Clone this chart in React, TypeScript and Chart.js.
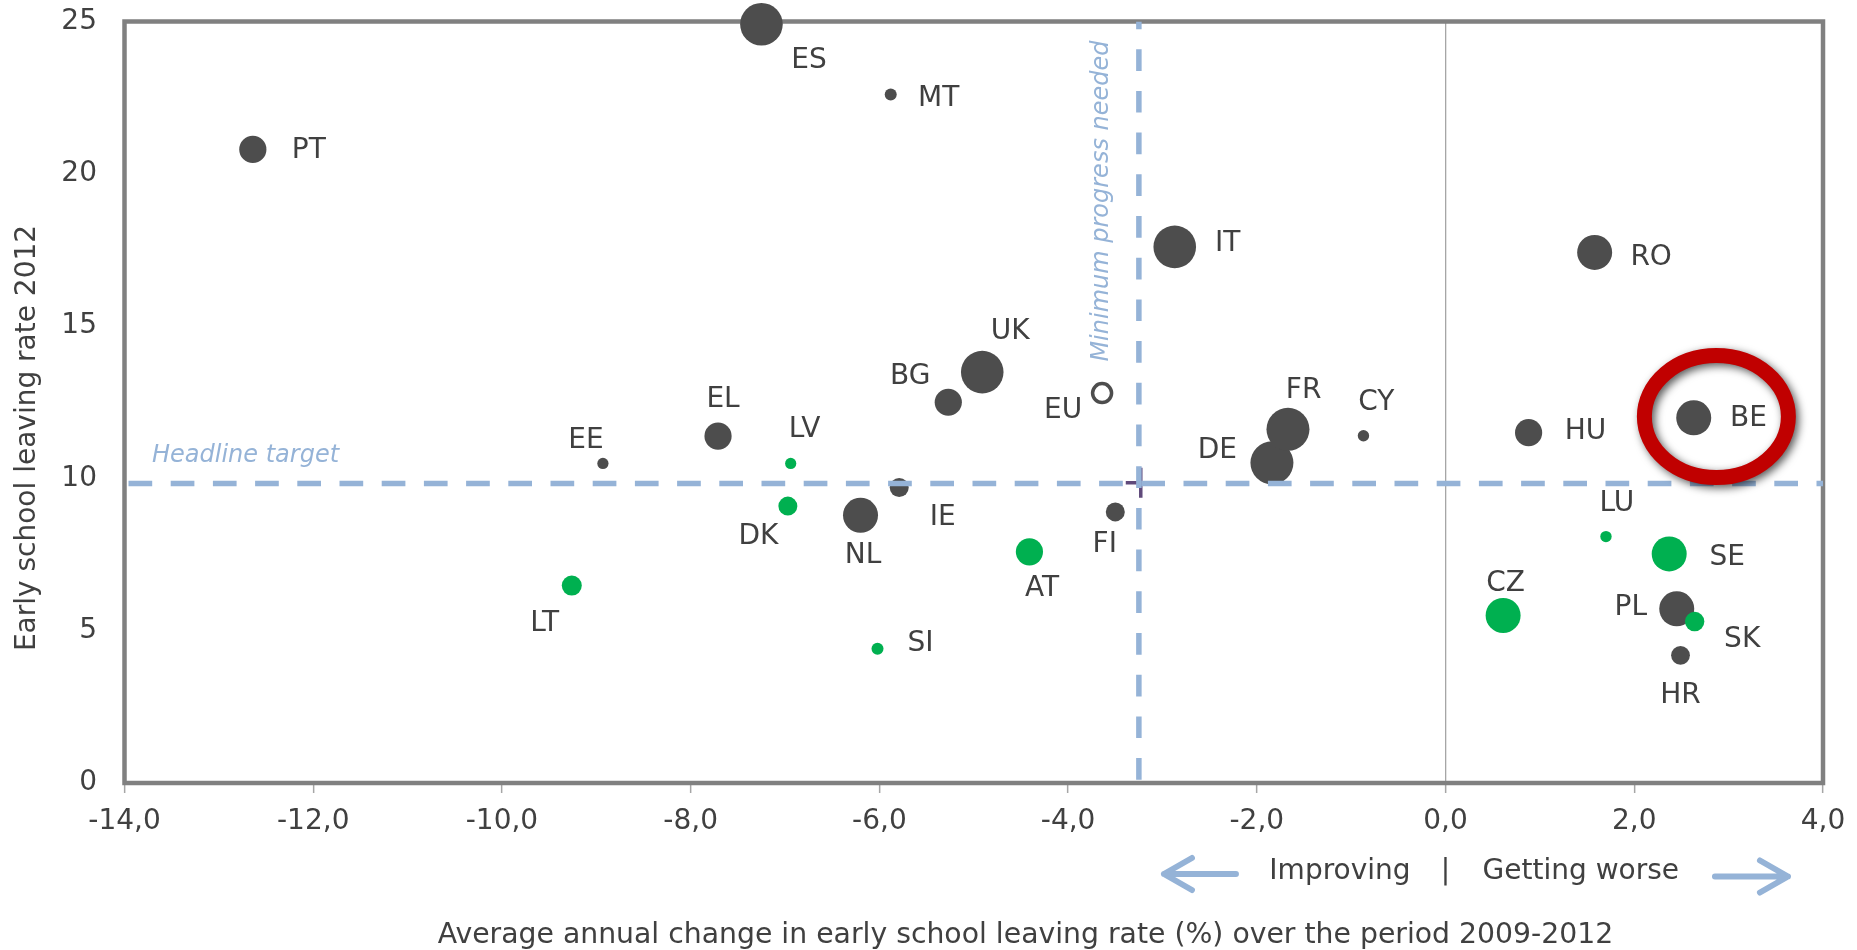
import React, { useEffect, useRef } from 'react';
import { Chart, registerables } from 'chart.js';

Chart.register(...registerables);

// ---------- data ----------
const countries = ['PT', 'ES', 'MT', 'IT', 'RO', 'EE', 'EL', 'BG', 'UK', 'NL', 'IE', 'FI', 'DE', 'FR', 'CY', 'HU', 'BE', 'PL', 'HR', 'LT', 'LV', 'DK', 'AT', 'SI', 'LU', 'SE', 'CZ', 'SK', 'EU'];
const avgAnnualChange = [-12.64, -7.25, -5.88, -2.87, 1.58, -8.93, -7.71, -5.27, -4.91, -6.2, -5.79, -3.5, -1.84, -1.67, -0.87, 0.88, 2.63, 2.45, 2.49, -9.26, -6.94, -6.97, -4.41, -6.02, 1.7, 2.37, 0.61, 2.64, -3.64];
const earlyLeaving2012 = [20.8, 24.91, 22.6, 17.6, 17.42, 10.49, 11.39, 12.5, 13.49, 8.79, 9.7, 8.9, 10.51, 11.61, 11.4, 11.5, 11.99, 5.72, 4.19, 6.48, 10.49, 9.09, 7.59, 4.41, 8.09, 7.52, 5.5, 5.3, 12.8];
const bubbleSize = [13.6, 21.3, 6, 21.3, 17.5, 5.6, 13.6, 13.6, 21.3, 17.5, 9.5, 9.5, 21.5, 21.5, 5.7, 13.6, 17.5, 17.5, 9.4, 10, 5.6, 9.5, 13.6, 6, 5.7, 17.5, 17.5, 9.7, 9.5];
const group = ['dark', 'dark', 'dark', 'dark', 'dark', 'dark', 'dark', 'dark', 'dark', 'dark', 'dark', 'dark', 'dark', 'dark', 'dark', 'dark', 'dark', 'dark', 'dark', 'green', 'green', 'green', 'green', 'green', 'green', 'green', 'green', 'green', 'eu'];

const headlineTarget = 9.83;
const minimumProgress = -3.25;
const targetPoint = { x: -3.23, y: 9.86 };
const highlightCenter = { x: 2.87, y: 12.03 };

const xTickLabels = ['-14,0', '-12,0', '-10,0', '-8,0', '-6,0', '-4,0', '-2,0', '0,0', '2,0', '4,0'];
const yTickLabels = ['0', '5', '10', '15', '20', '25'];

const xTitle = 'Average annual change in early school leaving rate (%) over the period 2009-2012';
const yTitle = 'Early school leaving rate 2012';

// ---------- styling (label placement in px relative to bubble centre) ----------
const labelOffset: Record<string, [number, number]> = {
  PT: [56, 1], ES: [47.5, 36], MT: [48, 4], IT: [53, -3.5], RO: [56.5, 5], EE: [-17, -23],
  EL: [5, -36], BG: [-38, -26], UK: [28, -40], NL: [2.5, 40], IE: [43.5, 30.5], FI: [-10.5, 32.7],
  DE: [-54.5, -11.7], FR: [15.6, -39], CY: [12.8, -33], HU: [57, -1.4], BE: [54.7, 1], PL: [-46, -1.3],
  HR: [0, 40], LT: [-27, 38], LV: [14, -34], DK: [-29.5, 31], AT: [12.7, 37], SI: [43, -5],
  LU: [11, -33], SE: [58, 3.7], CZ: [2.5, -31.7], SK: [47.5, 18.5], EU: [-39, 18],
};

const FONT = '"DejaVu Sans"';
const TEXT = '#404040';
const DARK = '#4D4D4D';
const GREEN = '#00B050';
const BLUE = '#95B3D7';

function pointsFor(g: string) {
  const out: any[] = [];
  countries.forEach((c, i) => {
    if (group[i] === g) out.push({ x: avgAnnualChange[i], y: earlyLeaving2012[i], r: bubbleSize[i], label: c });
  });
  return out;
}

const overlayPlugin = {
  id: 'overlay',
  beforeDatasetsDraw(chart: any) {
    const { ctx, chartArea: a } = chart;
    ctx.save();
    ctx.strokeStyle = '#808080';
    ctx.lineWidth = 4.5;
    ctx.strokeRect(a.left, a.top, a.right - a.left, a.bottom - a.top);
    ctx.restore();
  },
  afterDatasetsDraw(chart: any) {
    const { ctx, chartArea: a, scales } = chart;
    const xs = scales.x;
    const ys = scales.y;
    ctx.save();

    // country labels
    ctx.font = `28px ${FONT}`;
    ctx.fillStyle = TEXT;
    ctx.textAlign = 'center';
    ctx.textBaseline = 'middle';
    countries.forEach((c, i) => {
      const px = xs.getPixelForValue(avgAnnualChange[i]);
      const py = ys.getPixelForValue(earlyLeaving2012[i]);
      const [dx, dy] = labelOffset[c];
      ctx.fillText(c, px + dx, py + dy);
    });

    // Headline target
    ctx.font = `italic 24px ${FONT}`;
    ctx.fillStyle = BLUE;
    ctx.textAlign = 'left';
    ctx.textBaseline = 'alphabetic';
    ctx.fillText('Headline target', a.left + 27.5, ys.getPixelForValue(headlineTarget) - 22);

    // Minimum progress needed (vertical)
    ctx.save();
    ctx.translate(xs.getPixelForValue(minimumProgress) - 30.5, a.top + 19);
    ctx.rotate(-Math.PI / 2);
    ctx.textAlign = 'right';
    ctx.fillText('Minimum progress needed', 0, 0);
    ctx.restore();

    // highlight ring
    const cx = xs.getPixelForValue(highlightCenter.x);
    const cy = ys.getPixelForValue(highlightCenter.y);
    ctx.save();
    ctx.shadowColor = 'rgba(0,0,0,0.65)';
    ctx.shadowBlur = 9;
    ctx.shadowOffsetX = 3;
    ctx.shadowOffsetY = 3;
    ctx.strokeStyle = '#C00000';
    ctx.lineWidth = 15;
    ctx.beginPath();
    ctx.ellipse(cx, cy, 72, 61, 0, 0, Math.PI * 2);
    ctx.stroke();
    ctx.restore();

    ctx.restore();
  },
  afterDraw(chart: any) {
    const { ctx, scales } = chart;
    const xs = scales.x;
    ctx.save();
    ctx.fillStyle = TEXT;
    ctx.textBaseline = 'alphabetic';

    // axis titles
    ctx.font = `28.3px ${FONT}`;
    ctx.textAlign = 'center';
    ctx.fillText(xTitle, 1025.5, 943);
    ctx.font = `28px ${FONT}`;
    ctx.save();
    ctx.translate(35, 438);
    ctx.rotate(-Math.PI / 2);
    ctx.fillText(yTitle, 0, 0);
    ctx.restore();

    // Improving | Getting worse
    const x0 = xs.getPixelForValue(0);
    const ty = 879;
    ctx.textAlign = 'right';
    ctx.fillText('Improving', x0 - 35, ty);
    ctx.textAlign = 'center';
    ctx.fillText('|', x0, ty);
    ctx.textAlign = 'left';
    ctx.fillText('Getting worse', x0 + 37, ty);

    // arrows
    ctx.strokeStyle = BLUE;
    ctx.lineWidth = 6;
    ctx.lineCap = 'round';
    ctx.lineJoin = 'round';
    const arrow = (tail: number, tip: number, y: number) => {
      const dir = tip > tail ? 1 : -1;
      ctx.beginPath();
      ctx.moveTo(tail, y);
      ctx.lineTo(tip, y);
      ctx.moveTo(tip - dir * 28, y - 16);
      ctx.lineTo(tip, y);
      ctx.lineTo(tip - dir * 28, y + 16);
      ctx.stroke();
    };
    arrow(x0 - 209.6, x0 - 281.6, 874);
    arrow(x0 + 269.4, x0 + 342.4, 876.5);
    ctx.restore();
  },
};

export default function App() {
  const ref = useRef<HTMLCanvasElement | null>(null);

  useEffect(() => {
    if (!ref.current) return;
    const chart = new Chart(ref.current, {
      type: 'bubble',
      data: {
        datasets: [
          { type: 'bubble', data: pointsFor('dark'), backgroundColor: DARK, borderWidth: 0, order: 6, clip: false } as any,
          { type: 'bubble', data: pointsFor('green'), backgroundColor: GREEN, borderWidth: 0, order: 5, clip: false } as any,
          { type: 'bubble', data: pointsFor('eu'), backgroundColor: '#FFFFFF', borderColor: DARK, borderWidth: 3.5, order: 4, clip: false } as any,
          { type: 'bubble', data: [{ x: targetPoint.x, y: targetPoint.y, r: 15 }], pointStyle: 'cross', borderColor: '#604A7B', backgroundColor: '#604A7B', borderWidth: 3.5, order: 3, clip: false } as any,
          {
            type: 'line',
            data: [{ x: -14, y: headlineTarget }, { x: 4, y: headlineTarget }],
            borderColor: BLUE, borderWidth: 5.5, borderDash: [23.7, 18.5], borderDashOffset: 38.2,
            pointRadius: 0, fill: false, order: 2,
          } as any,
          {
            type: 'line',
            data: [{ x: minimumProgress, y: 25 }, { x: minimumProgress, y: 0 }],
            borderColor: BLUE, borderWidth: 5.5, borderDash: [21.7, 20], borderDashOffset: 14,
            pointRadius: 0, fill: false, order: 1,
          } as any,
        ],
      },
      options: {
        animation: false,
        responsive: false,
        events: [],
        layout: { padding: { left: 0, top: 19, right: 34, bottom: 0 } },
        plugins: { legend: { display: false }, tooltip: { enabled: false } },
        scales: {
          x: {
            type: 'linear',
            min: -14,
            max: 4,
            border: { display: false },
            grid: {
              color: (c: any) => (c.tick && c.tick.value === 0 ? '#A6A6A6' : 'rgba(0,0,0,0)'),
              lineWidth: 1.3,
              tickColor: '#A6A6A6',
              tickWidth: 1.5,
              tickLength: 10,
              drawTicks: true,
            },
            ticks: {
              stepSize: 2,
              maxRotation: 0,
              autoSkip: false,
              padding: 6,
              color: TEXT,
              font: { family: 'DejaVu Sans', size: 28, lineHeight: 1.621 },
              callback: (_v: any, i: number) => xTickLabels[i],
            },
            afterFit: (s: any) => { s.height = 167; },
          },
          y: {
            type: 'linear',
            min: 0,
            max: 25,
            border: { display: false },
            grid: { display: false, drawTicks: true, tickLength: 24.5 },
            ticks: {
              stepSize: 5,
              padding: 3,
              color: TEXT,
              font: { family: 'DejaVu Sans', size: 28, lineHeight: 1 },
              callback: (_v: any, i: number) => yTickLabels[i],
            },
            afterFit: (s: any) => { s.width = 124.5; },
          },
        },
      },
      plugins: [overlayPlugin],
    });
    return () => chart.destroy();
  }, []);

  return (
    <div style={{ position: 'absolute', left: 0, top: 0, width: 1857, height: 950, background: '#fff' }}>
      <canvas ref={ref} width={1857} height={950} style={{ width: 1857, height: 950, display: 'block' }} />
    </div>
  );
}
